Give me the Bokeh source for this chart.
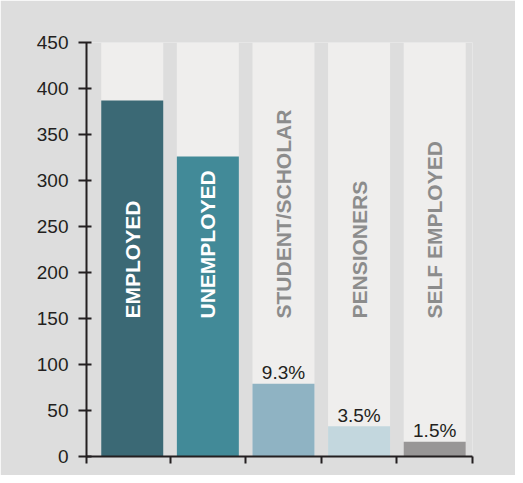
import math
from bokeh.plotting import figure
from bokeh.models import Range1d, FixedTicker, ColumnDataSource
from bokeh.core.properties import value
from bokeh.embed import file_html
from bokeh.resources import INLINE

categories = ["EMPLOYED", "UNEMPLOYED", "STUDENT/SCHOLAR", "PENSIONERS", "SELF EMPLOYED"]
counts = [387, 326, 79, 33, 16]
pct_labels = ["", "", "9.3%", "3.5%", "1.5%"]
bar_colors = ["#3b6975", "#428a98", "#8fb3c3", "#c3d7de", "#989696"]
label_colors = ["#ffffff", "#ffffff", "#8c8c8c", "#8c8c8c", "#8c8c8c"]
y_max = 450
y_ticks = [0, 50, 100, 150, 200, 250, 300, 350, 400, 450]

FONT = "Liberation Sans"
PANEL = "#dddddd"
DARK = "#231f20"

xs = [i + 0.5 for i in range(len(categories))]
src = ColumnDataSource(dict(
    x=xs, top=counts, full=[y_max] * len(categories), color=bar_colors,
    cat=categories, lab_color=label_colors,
    lab_y=[150] * len(categories),
))
keep = [i for i, t in enumerate(pct_labels) if t]
pct_src = ColumnDataSource(dict(
    x=[xs[i] for i in keep], top=[counts[i] for i in keep],
    pct=[pct_labels[i] for i in keep],
))

p = figure(width=515, height=475, output_backend="svg", toolbar_location=None,
           x_range=Range1d(-0.105, 5.0), y_range=Range1d(0, y_max),
           min_border_left=86, min_border_right=43, min_border_top=42,
           min_border_bottom=19)
p.background_fill_color = PANEL
p.border_fill_color = PANEL
p.outline_line_color = None
p.grid.visible = False

p.vbar(x="x", width=0.82, bottom=0, top="full", source=src,
       fill_color="#efeeed", line_color=None)
p.vbar(x="x", width=0.82, bottom=0, top="top", source=src,
       fill_color="color", line_color=None)

p.text(x="x", y="lab_y", text="cat", source=src, angle=math.pi / 2,
       text_align="left", text_baseline="middle", text_color="lab_color",
       text_font=value(FONT), text_font_style="bold", text_font_size="21px")

p.text(x="x", y="top", text="pct", source=pct_src, y_offset=-11,
       text_align="center", text_baseline="alphabetic", text_color=DARK,
       text_font=value(FONT), text_font_size="19px")

ya = p.yaxis[0]
ya.ticker = FixedTicker(ticks=y_ticks)
ya.axis_line_color = DARK
ya.axis_line_width = 2
ya.major_tick_line_color = DARK
ya.major_tick_line_width = 2
ya.major_tick_out = 8
ya.major_tick_in = 5
ya.minor_tick_line_color = None
ya.major_label_standoff = 10
ya.major_label_text_font = FONT
ya.major_label_text_font_size = "19px"
ya.major_label_text_color = DARK

xa = p.xaxis[0]
xa.ticker = FixedTicker(ticks=[-0.105, 1, 2, 3, 4, 5])
xa.axis_line_color = DARK
xa.axis_line_width = 2
xa.major_tick_line_color = DARK
xa.major_tick_line_width = 2
xa.major_tick_out = 7
xa.major_tick_in = 0
xa.minor_tick_line_color = None
xa.major_label_text_font_size = "1px"
xa.major_label_text_color = None
xa.major_label_standoff = 0

open("out.html", "w").write(file_html(p, INLINE))
